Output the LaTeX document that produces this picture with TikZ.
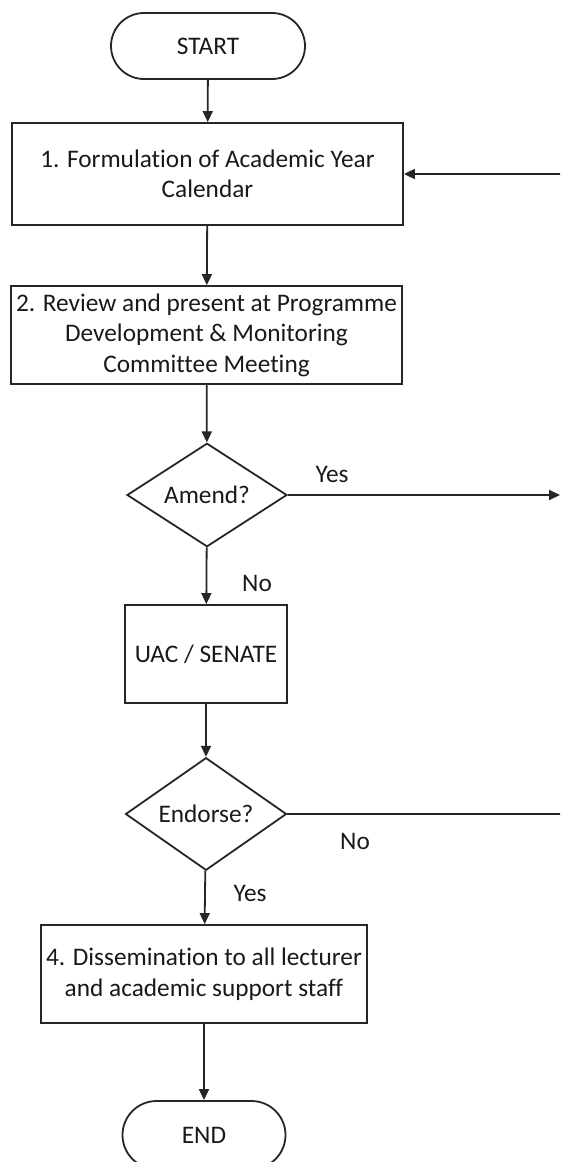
\documentclass[tikz,border=0pt]{standalone}
\usepackage{fontspec}
\setmainfont{Carlito}[Ligatures=NoCommon]
\usetikzlibrary{shapes.geometric,shapes.misc,arrows.meta}
\begin{document}
\begin{tikzpicture}[x=1pt,y=-1pt,
  every node/.style={font=\fontsize{25.3}{30.5}\selectfont, text=black!90},
  line/.style={draw=black!85, line width=1.8pt},
  arr/.style={line, -{Triangle[length=11pt,width=10pt]}},
  term/.style={line, rounded rectangle, inner sep=0pt},
  proc/.style={line, rectangle, inner sep=0pt, align=center},
  dec/.style={line, diamond, inner sep=0pt},
  lbl/.style={inner sep=0pt}]
\useasboundingbox (0,0) rectangle (560,1162);
\clip (0,0) rectangle (560,1162);
\node[term, minimum width=194pt, minimum height=66pt] (start) at (208,46) {START};
\node[proc, minimum width=391pt, minimum height=102pt] (b1) at (207.5,174) {1. Formulation of Academic Year\\Calendar};
\node[proc, minimum width=391pt, minimum height=98pt] (b2) at (206.5,335) {2. Review and present at Programme\\Development \& Monitoring\\Committee Meeting};
\node[dec, minimum width=160pt, minimum height=96pt] (d1) at (207,495) {Amend?};
\node[proc, minimum width=162pt, minimum height=98pt] (uac) at (206,654) {UAC / SENATE};
\node[dec, minimum width=161pt, minimum height=96pt] (d2) at (206,814) {Endorse?};
\node[proc, minimum width=326pt, minimum height=98pt] (b4) at (204,974) {4. Dissemination to all lecturer\\and academic support staff};
\node[term, minimum width=163pt, minimum height=68pt] (end) at (204,1135) {END};
\node[lbl] (yes1) at (332,474) {Yes};
\node[lbl] (no1) at (257,583) {No};
\node[lbl] (no2) at (355,841) {No};
\node[lbl] (yes2) at (250,893) {Yes};
\coordinate (r1) at (562,174);
\coordinate (r2) at (560,495);
\coordinate (r3) at (562,814);
\draw[arr] (start) -- (b1);
\draw[arr] (b1) -- (b2);
\draw[arr] (b2) -- (d1);
\draw[arr] (d1) -- (uac);
\draw[arr] (uac) -- (d2);
\draw[arr] (d2) -- (b4);
\draw[arr] (b4) -- (end);
\draw[arr] (d1.east) -- (r2);
\draw[line] (d2.east) -- (r3);
\draw[arr] (r1) -- (b1.east);
\end{tikzpicture}
\end{document}
